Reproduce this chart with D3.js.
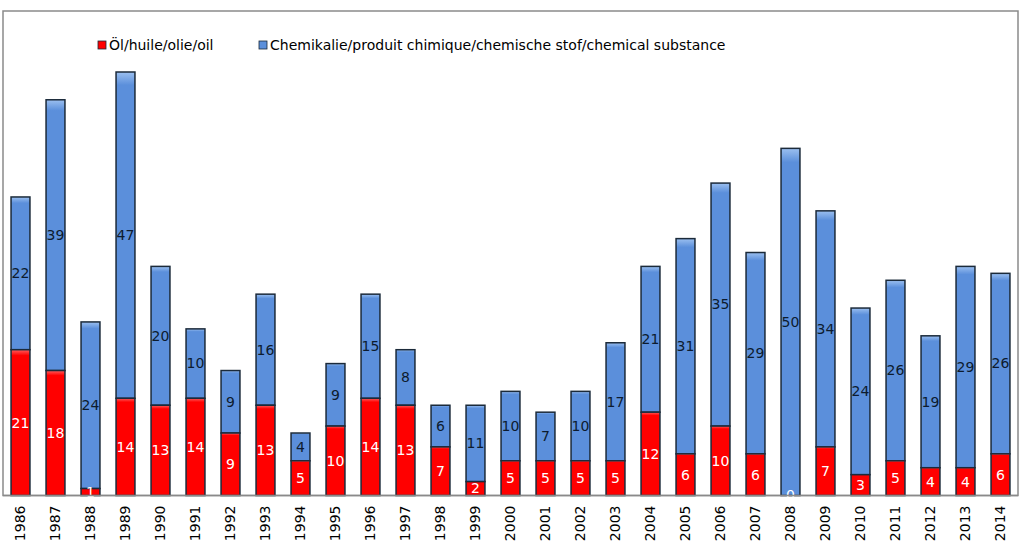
<!DOCTYPE html>
<html><head><meta charset="utf-8">
<script src="https://cdn.jsdelivr.net/npm/d3@7"></script>
<style>body{margin:0;background:#fff}svg{display:block}</style>
</head><body>
<svg id="c" width="1024" height="557"></svg>
<script>
const years = ["1986","1987","1988","1989","1990","1991","1992","1993","1994","1995","1996","1997","1998","1999","2000","2001","2002","2003","2004","2005","2006","2007","2008","2009","2010","2011","2012","2013","2014"];
const oil = [21,18,1,14,13,14,9,13,5,10,14,13,7,2,5,5,5,5,12,6,10,6,0,7,3,5,4,4,6];
const chem = [22,39,24,47,20,10,9,16,4,9,15,8,6,11,10,7,10,17,21,31,35,29,50,34,24,26,19,29,26];
const seriesNames = ["Öl/huile/olie/oil","Chemikalie/produit chimique/chemische stof/chemical substance"];

const svg = d3.select("#c");
const L = 3, R = 1018, T = 11, B = 495.5;
const x = d3.scaleBand().domain(years).range([L, R]).paddingInner(0.46).paddingOuter(0.23);
const y = d3.scaleLinear().domain([0, 61]).range([B, 72]);

const defs = svg.append("defs");
function grad(id, light, base) {
  const g = defs.append("linearGradient").attr("id", id).attr("x1",0).attr("y1",0).attr("x2",0).attr("y2",1);
  g.append("stop").attr("offset","0").attr("stop-color",light);
  g.append("stop").attr("offset","0.04").attr("stop-color",base);
  g.append("stop").attr("offset","1").attr("stop-color",base);
}
grad("gRed","#ff6060","#ff0000");
grad("gBlue","#9cc0f0","#5b8fdb");

// plot frame
svg.append("rect").attr("x",L).attr("y",T).attr("width",R-L).attr("height",B-T)
  .attr("fill","none").attr("stroke","#8a8a8a").attr("stroke-width",1.5);

const data = years.map((yr,i)=>({yr, oil:oil[i], chem:chem[i]}));
const fontF = "Verdana, 'DejaVu Sans', sans-serif";

const g = svg.append("g");
data.forEach(d=>{
  const bx = x(d.yr), bw = x.bandwidth();
  // chem segment
  g.append("rect").attr("x",bx).attr("y",y(d.oil+d.chem)).attr("width",bw)
    .attr("height",y(d.oil)-y(d.oil+d.chem)).attr("fill","url(#gBlue)")
    .attr("stroke","#1b2a3a").attr("stroke-width",1.5);
  if (d.oil>0) {
    g.append("rect").attr("x",bx).attr("y",y(d.oil)).attr("width",bw)
      .attr("height",y(0)-y(d.oil)).attr("fill","url(#gRed)")
      .attr("stroke","#1b2a3a").attr("stroke-width",1.5);
  }
  const cx = bx + bw/2;
  g.append("text").attr("x",cx).attr("y",(y(d.oil)+y(d.oil+d.chem))/2).attr("dy","0.35em")
    .attr("text-anchor","middle").attr("font-family",fontF).attr("font-size",14)
    .attr("fill","#0d1b2e").text(d.chem);
  g.append("text").attr("x",cx).attr("y",(y(0)+y(d.oil))/2).attr("dy","0.35em")
    .attr("text-anchor","middle").attr("font-family",fontF).attr("font-size",14)
    .attr("fill","#ffffff").text(d.oil);
});

// baseline
svg.append("line").attr("x1",L).attr("x2",R).attr("y1",B).attr("y2",B).attr("stroke","#8a8a8a").attr("stroke-width",1.5);

// x axis labels
const xa = svg.append("g").attr("transform",`translate(0,${B})`).call(d3.axisBottom(x).tickSize(0));
xa.select(".domain").remove();
xa.selectAll("text").attr("font-family",fontF).attr("font-size",14).attr("fill","#000")
  .attr("transform","rotate(-90)").attr("text-anchor","end").attr("x",-10).attr("y",0).attr("dy","0.35em");

// legend
const leg = svg.append("g");
const legItems = [{name:seriesNames[0], fill:"url(#gRed)", x:98},{name:seriesNames[1], fill:"url(#gBlue)", x:259}];
legItems.forEach(it=>{
  leg.append("rect").attr("x",it.x).attr("y",41).attr("width",8).attr("height",8)
    .attr("fill",it.fill).attr("stroke","#1b2a3a").attr("stroke-width",0.8);
  leg.append("text").attr("x",it.x+11).attr("y",50).attr("font-family",fontF).attr("font-size",14)
    .attr("fill","#000").text(it.name);
});
</script>
</body></html>
